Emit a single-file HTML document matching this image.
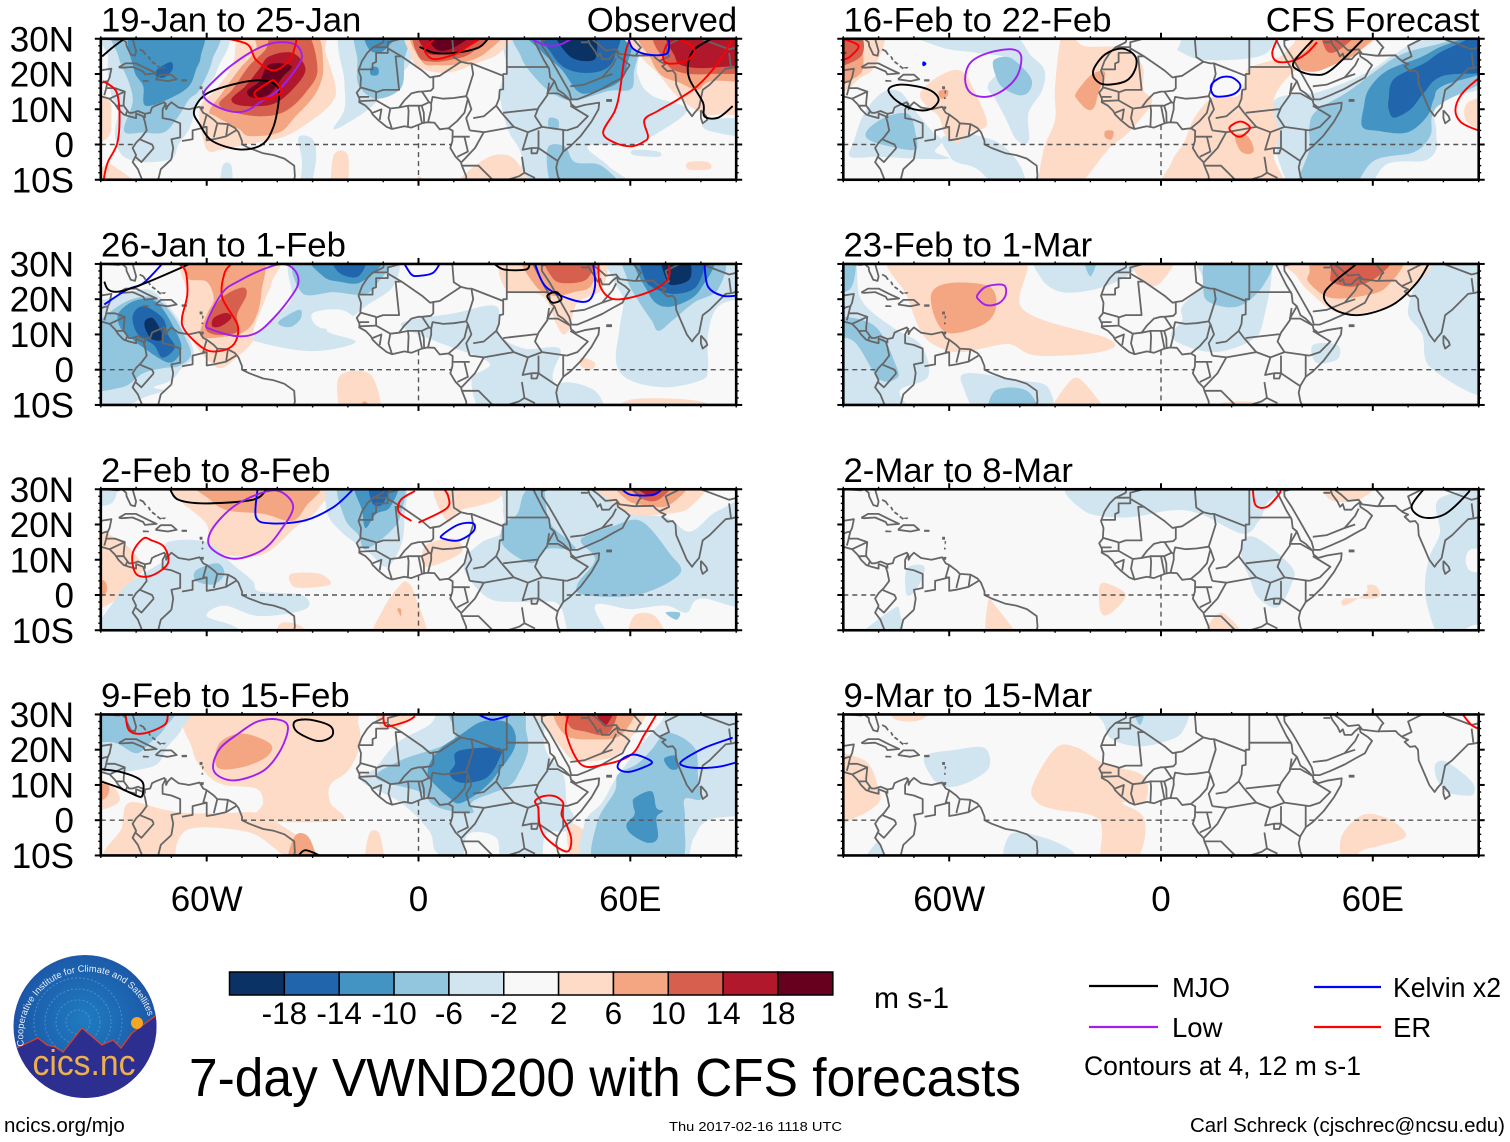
<!DOCTYPE html>
<html lang="en">
<head>
<meta charset="utf-8">
<title>7-day VWND200 with CFS forecasts</title>
<style>
html,body{margin:0;padding:0;background:#fff}
svg{display:block}
text{font-family:"Liberation Sans",sans-serif;fill:#000}
</style>
</head>
<body>
<svg id="chart" xmlns="http://www.w3.org/2000/svg" width="1510" height="1142" viewBox="0 0 1510 1142">
<defs>
<radialGradient id="logoSky" cx="50%" cy="45%" r="60%"><stop offset="0" stop-color="#1f7cc0"/><stop offset="0.7" stop-color="#1c5dab"/><stop offset="1" stop-color="#26409c"/></radialGradient>
<clipPath id="logoClip"><ellipse cx="85" cy="1026.5" rx="71.5" ry="71.5"/></clipPath>
<path id="logoArc" d="M 24 1046 A 64 64 0 1 1 151 1040"/>
</defs>
<g id="panels"></g>
<g id="colorbar"></g>
<g>
<ellipse cx="85" cy="1026.5" rx="71.5" ry="71.5" fill="url(#logoSky)"/>
<g clip-path="url(#logoClip)" fill="none" stroke="#6fa6d8" stroke-width="1" stroke-dasharray="2 2" opacity="0.6">
<circle cx="78" cy="1022" r="12"/><circle cx="78" cy="1022" r="22"/><circle cx="78" cy="1022" r="33"/><circle cx="78" cy="1022" r="44"/>
</g>
<polygon clip-path="url(#logoClip)" points="12,1050 38,1038 47,1045 55,1047 63,1052 82,1028 102,1045 113,1040 121,1048 132,1033 158,1014 160,1100 10,1100" fill="#2d2f90" stroke="#d8402a" stroke-width="1.3"/>
<circle cx="137" cy="1023" r="6" fill="#f5a623"/>
<text font-size="9.3" style="fill:#e8eef8"><textPath href="#logoArc">Cooperative Institute for Climate and Satellites</textPath></text>
<text x="84" y="1075" text-anchor="middle" font-size="36" textLength="103" lengthAdjust="spacingAndGlyphs" style="fill:#eeb04c">cics.nc</text>
</g>
<text x="874" y="1008" font-size="30">m s-1</text>
<text x="189" y="1096" font-size="54" textLength="832" lengthAdjust="spacingAndGlyphs">7-day VWND200 with CFS forecasts</text>
<g>
<line x1="1089" x2="1158" y1="986" y2="986" stroke="#000" stroke-width="2.2"/>
<text x="1172" y="997" font-size="27.5">MJO</text>
<line x1="1314" x2="1381" y1="987" y2="987" stroke="#0000ff" stroke-width="2.2"/>
<text x="1393" y="997" font-size="27.5" textLength="108" lengthAdjust="spacingAndGlyphs">Kelvin x2</text>
<line x1="1089" x2="1158" y1="1027" y2="1027" stroke="#a020f0" stroke-width="2.2"/>
<text x="1172" y="1037" font-size="27.5">Low</text>
<line x1="1314" x2="1381" y1="1027" y2="1027" stroke="#ff0000" stroke-width="2.2"/>
<text x="1393" y="1037" font-size="27.5">ER</text>
<text x="1084" y="1075" font-size="27" textLength="277" lengthAdjust="spacingAndGlyphs">Contours at 4, 12 m s-1</text>
</g>
<text x="4" y="1132" font-size="20.5">ncics.org/mjo</text>
<text x="669" y="1131" font-size="13.3" textLength="173" lengthAdjust="spacingAndGlyphs">Thu 2017-02-16 1118 UTC</text>
<text x="1190" y="1132" font-size="20.5" textLength="315" lengthAdjust="spacingAndGlyphs">Carl Schreck (cjschrec@ncsu.edu)</text>
</svg>
<script>
// ---- Categories and scale values ----
const panelTitles = ['19-Jan to 25-Jan','26-Jan to 1-Feb','2-Feb to 8-Feb','9-Feb to 15-Feb','16-Feb to 22-Feb','23-Feb to 1-Mar','2-Mar to 8-Mar','9-Mar to 15-Mar'];
const columnTags = ['Observed','CFS Forecast'];
const latTicks = [30,20,10,0,-10];
const latLabels = ['30N','20N','10N','0','10S'];
const lonTicks = [-60,0,60];
const lonLabels = ['60W','0','60E'];
const colorbarBins = [-20,-16,-12,-8,-4,0,4,8,12,16,20];
const colorbarColors = ['#0a3264','#2166ac','#4393c3','#92c5de','#d1e5f0','#f8f8f8','#fddbc7','#f4a582','#d6604d','#b2182b','#67001f'];
const colorbarLabels = ['-18','-14','-10','-6','-2','2','6','10','14','18'];
const contourColors = {mjo:'#000000',low:'#a020f0',kelvin:'#0000ff',er:'#ff0000'};

// ---- Shaded anomaly regions: [m/s, lon,lat, lon,lat, ...] ----
const shadeJan19 = [
[-4,-88,30,-55.5,30,-57,21.3,-60.3,15.6,-63,10,-65,4.3,-68,0,-70,-4,-78,-5,-84,-3,-86,3,-85,10,-87,14,-88,20,-88,25],
[-4,-21.6,30,-2,30,-2,24,-6,19,-12,12,-17,8,-24,4.3,-21,10,-21,18],
[-4,26.8,30,60,30,62,20,66,14,76,10,68,3.4,60,0,48,-0.5,53.7,-6,61,-11,32,-11,29,-2.3,25.3,4.3,23,14.7,25,21.3],
[-4,82,7,92,7,92,2,82,4],
[-4,61,-1.5,68,-2,68,-3.5,61,-3],
[-4,-34,2,-30,1.5,-29,-4,-31,-11,-33.5,-11,-33,-5],
[-4,-55.5,-6,-53,-6,-53,-11,-56,-11],
[4,-91,14,-88,13,-87,8,-88,2,-91,0],
[4,-89,-6,-85,-7,-78,-10,-78,-11,-91,-11],
[4,-24,-3,-20,-3,-20.5,-11,-24.5,-11],
[4,19,-4,27,-4,30,-11,10,-11],
[4,0,-9,4,-10,6,-11,0,-11],
[4,76.5,-5,82,-5,82.5,-7,76.5,-7],
[-8,-85,30,-58,30,-58.4,24,-62,15.6,-65,12.8,-68,8,-72,3.5,-78,3.4,-83.4,3.8,-81,11.9,-82,17.5,-85,25],
[-8,-17.3,30,-3,30,-4,24,-5,16,-12,13,-17,17,-17.3,24],
[-8,29,30,60,30,61,20,60,15.6,54,15.2,44,12.5,38,14.5,33,19,29,25],
[-8,36.5,-1.4,41.4,-0.5,44.3,-5,51.8,-6,57.4,-11,39.5,-11],
[-8,37,7.5,39.5,7,39.5,4.3,37,4.8],
[-12,-81,30,-62,30,-61.7,25,-63,21.3,-65,16.6,-70,13.3,-77.3,11,-78,16.6,-80.6,21.3],
[-12,-15,30,-6,30,-10,26.5,-14,27],
[-12,-13.5,21.8,-11.5,21.8,-11.5,19.8,-13.5,19.8],
[-12,31.5,30,58.4,30,59,22.3,56.5,17.5,49,14.7,45,15.2,40.5,21.3,34.8,26.5],
[-16,-74,21.3,-70.2,23.4,-69.7,21.3,-72,19,-74.4,19.4],
[-16,35,30,55.6,30,55.6,25,52.7,21.3,47,20.3,41.4,21.8,37.6,26],
[-20,38.6,30,49,30,50.4,25,47,23.7,42.3,25.5],
[4,-49,30,-28,30,-26.3,26,-23.5,16.6,-24.5,11.9,-30,7,-37.6,2.4,-46,0.5,-55.6,-1.4,-59.3,-2,-61,1.5,-62,10.4,-57.5,15.6,-52.7,22.3],
[8,-45.6,30,-30,30,-27,22.3,-29,14.7,-34.8,8,-39.5,3.4,-48,2.4,-50.8,4.3,-57.5,8,-59.3,9.5,-55.6,14.7,-50.8,21.3,-46,27],
[12,-41,30,-32,30,-28.6,21.3,-32,14.7,-37.6,9.5,-44,8,-51.8,9,-56.5,11.4,-52.7,15.6,-48,22.3,-43.3,27],
[16,-42.3,25,-35.7,26,-32,21.3,-35.7,15.6,-41.4,11.4,-49.9,11,-53,12.8,-49,16.6,-45.2,21.3],
[20,-42.3,22.7,-36,22.3,-38.6,19,-42.3,14.2,-47,13.3,-48.5,15.2,-45,18],
[4,-2,30,25,30,23,26,15.4,22.7,10.3,20.8,5.5,20.4,0,22,-2,25],
[8,-1,30,23,30,19,26,12,23,6,22.5,1,23.5],
[12,0,30,20,30,15,26,9,24,4,23.5,0,25],
[16,1,30,19,30,13,27,6,25.5,2,26.5],
[20,3,30,16,30,10,27.5,5,27],
[4,60,30,92,30,92,11,85,8.5,80,9,73,14,68,20,63,25],
[8,64,30,92,30,92,19,83,18,79,15.5,74,17.5,69,19.5,66,24],
[12,68,30,92,30,92,21.5,83,20,74.5,20.4,70,23.4],
[16,71.6,30,92,30,92,24,83,21.8,75,22.3,72.6,25]
];
const linesJan19 = [
['mjo',1,-63.6,9.5,-60.3,14.2,-52.7,17,-45.2,18.2,-40.5,17,-39.5,13.8,-41,5.3,-44.3,0,-50.8,-1.4,-58.4,1,-62,5.7],
['mjo',0,-89.6,25,-86.7,27.5,-83.4,30],
['mjo',0,0.3,27.7,4.6,26,10.3,26,17,27.5,19.7,30],
['mjo',0,83,30,78.2,27,76.4,23.2,76.8,18.5,80.6,11.9,81,8,84.9,7.6,89,10.9],
['low',1,-60.8,14.7,-59.3,12,-53.7,9.5,-49,9.5,-44.3,12.3,-39.5,15.6,-34.8,21.3,-33,25,-35,28.4,-40.5,28.9,-46,27,-52.7,22.7,-57.5,18.5],
['low',0,32,30,35.8,28.2,40,28.3,43.3,30],
['er',0,-54,30,-48.3,28.3,-46,24,-41,21,-36.5,24,-35,27.7,-34.5,30],
['er',1,-46,15.2,-41.8,18,-40.8,18,-38.7,15.2,-40.5,13.8,-44.3,12.8,-46.3,13.8],
['er',0,-89.4,18,-85.7,15.2,-84.7,9,-85.3,0.5,-88,-5,-89,-9,-89,-11],
['er',0,4.6,30,2,27.5,2.2,25.7,4.6,24.2,10.3,25.6,14,27.9,17,30],
['er',0,59.8,30,58.4,25,57,15,55.6,9.5,52.3,3.4,55.6,0.5,60.3,-0.5,64,0.9,65,2.4,64,7,67.8,9.5,73.5,12.8,79,16.6,84.9,23.2,89,30],
['er',1,69.3,24.5,70.7,23,75.4,23.5,78.2,26.3,76.4,28.6,72.6,30,70.2,28],
['kelvin',0,59.5,30,60.8,27.2,65,25.5,70.2,25.7,71,28.5,70.7,30]
];
const shadeJan26 = [
[-4,-35,30,-8,30,-7,24,-15,18,-20,14,-26,11,-17.8,8,-25,5.7,-34,5.5,-46,8,-47,9,-42,14,-36,20],
[0,-30,16,-22,17,-17,13.5,-19,11.5,-28,12],
[-4,-5,13,10,16,22,18,23,10,30,6,40,6,38,-2,40,-11,20,-11,15,-3,20,2,5,8],
[-4,40,-4,50,-6,52,-11,39,-11],
[-4,-88.5,20,-78.6,22.7,-74,21.3,-67,12.8,-63.6,4.3,-67,0.5,-70,-3,-75,-5,-72,-6,-78,-8,-88,-10,-92,-8,-92,18],
[-4,56,30,90,30,90,22,85,18,82,10,82,0,80,-3,70,-5,60,-3,56,2,57,12,58,20,55,26],
[4,-22.5,-2,-13.5,-1.5,-11,-11,-21,-11],
[8,-16,-9.5,-14.5,-9.5,-14,-11,-16.5,-11],
[4,60,-8.5,80,-9,82,-11,58,-11],
[4,46,3.5,50,2,49,0,46,1],
[-8,-89,15,-82,19.7,-75,20.5,-70,16,-66,9,-64.5,4,-68,1,-72,0.5,-78,-1,-84,-5,-91,-5,-91,8],
[-12,-85,16,-80,19.7,-74,19,-68.3,10,-67.3,5.3,-70.7,2,-78,6.3,-82,9.5,-84.4,11.8],
[-16,-81,15.2,-78,18,-72.5,14.7,-71,10,-69,6.3,-72.5,3.4,-75,7,-79.5,10],
[-20,-77.5,13.8,-75.4,14.7,-73.4,11.9,-72.5,8.6,-75.4,8.6,-77.3,11.4],
[-8,-34,30,-9,30,-12,24,-16,21.3,-24,22,-33,21.8],
[-12,-30.5,30,-10,30,-16,25,-22.5,25,-27,26.5],
[-16,-24.4,30,-15,30,-17,26.5,-22.5,27.5],
[-8,-39.5,13.8,-33.8,17,-33.3,14.7,-35.7,12.3,-38.5,12.3],
[4,-66,30,-40.5,30,-41.5,25,-43.5,19.7,-46.5,12,-47,8,-50,4.8,-55.6,0.5,-59.3,2.4,-63,6.7,-67,14.7,-65.5,21.3],
[8,-65,30,-45,30,-44.5,22,-46,15,-49,11,-54,9.5,-61.7,9.5,-59.8,16,-58,20,-60,25,-65.5,26],
[12,-55.6,20.5,-50,23.3,-48.7,21.3,-51.4,15.6,-51,11,-56,9.8,-60,11,-59.7,14.7],
[16,-58,14.7,-54.5,16.1,-53,14.7,-56,12.3,-58.4,12.3],
[4,25,30,51,30,52,23,45,19,43,12,41,10,39,13,35,21,25,22.5],
[8,30,30,50,30,49,24,44,22,38,21,33,24],
[12,36,30,49,30,48,26,42,24.5,38,26],
[-8,60,30,85,30,85,23,78,19,72,14,68,11,66,14,62,20,59,26],
[-12,62,30,83,30,80,23,75,19,69,18,65,22],
[-16,64,30,80,30,79,24,73,21.5,67,23,64,26],
[-20,69,30,76,30,77,26,72,24,70,26]
];
const linesJan26 = [
['kelvin',0,-89,18.5,-82.6,22.7,-78,24.5,-72.6,30],
['mjo',0,-89,25,-88,22.8,-85.5,22.1,-81,23.2,-74,26,-66,29.5,-64,30.5],
['er',0,-68,30,-66,28,-65.5,21.3,-67,14.7,-66.4,11.5,-63,7.7,-59.3,5.3,-54.6,5.7,-51.8,8,-51.3,12.8,-55.6,20.5,-55,27.3,-53,30],
['low',1,-60,13.3,-58.6,11.4,-51.5,9.5,-46,10.4,-41,14.7,-35.7,21.3,-34,25,-35.2,28.4,-38.6,30,-44,28.5,-51,25.1,-55.6,21.8],
['kelvin',0,-4,30,-2,27,0,26.6,4,27.4,6,30],
['mjo',0,21.5,30,24.3,28.4,30.4,28.4,31.5,30],
['kelvin',0,33,30,36,23.6,43,20,48,19.5,50,23.6,49.5,30],
['mjo',1,36.5,21,39,22,40.5,20,38,19],
['er',0,51,30,51.5,23.6,55.5,20,64.4,21.7,70.5,25.5,71,30],
['kelvin',0,81,30,82,23.6,86,21,90,21]
];
const shadeFeb2 = [
[4,-70,30,-27,30,-28,25,-35,19,-43,12,-51,11,-60,13,-60,20],
[8,-62.5,30,-29,30,-32,25,-36,21,-44,23,-54,24,-59,27],
[4,-90,17.5,-84,15,-78,8,-80,5,-85,-1,-90,-3],
[8,-91,4,-89,4,-89,0,-91,0],
[4,-36,6,-28,6,-25,3,-33,2,-36,3],
[4,-5,3,-3,3.5,-1,0,2,-11,-13,-11,-10,-4],
[8,-6,-4,-5,-4,-5,-6],
[4,5,30,25,30,22,27,12,24,8,21],
[4,2,14,10,16,12,12,2,8],
[4,61,-6,67,-6,70,-11,60,-11],
[4,-39,-8,-33,-9,-32,-11,-40,-11],
[-4,-91,30,-86,30,-87,26,-91,26],
[-4,-89,-11,-85,0,-78,6,-72,10,-71,15,-60,15,-53,9,-47,4,-45,1,-33,0,-32,-4,-45,-6,-55,-3,-60,-6,-52,-9,-48,-11],
[-8,-63,7,-57,9,-55,6,-58,3,-63,4],
[-4,-24,30,-5,30,-4,22,-5,14,-9,8,-14,12,-22,18,-26,24],
[-8,-22,30,-5,30,-5,23,-8,18,-15,13,-17,17,-21,22],
[-12,-18,30,-6,30,-8,25,-12,23,-15,19,-16,24],
[-16,-14,30,-8,30,-10,26,-13,26],
[-4,26,30,50,30,58,24,70,22,77,18,85,24,92,26,92,-2,80,-1,76,-5,70,-3,60,-4,50,-3,54,-11,44,-11,40,-3,34,-2,27,-2,20,-1,14,5,13,10,18,15,24,18,24,25],
[-8,30,29,35,30,37,21,43,15,44,13,36,13,32,9,24,14,24,20,28,23],
[-8,48,17,55,19.5,63,21,71,12,74,6,62,0,47,0,45,3,50,10,46,15],
[-8,70,-5,74,-5,73,-7],
[4,50,30,80,30,77,25,70,23,60,23,54,27],
[8,56,30,76,30,71,25.5,64,25.5,59,27],
[12,59,30,72,30,68,27,63,27.5],
[16,60,30,70,30,66,28]
];
const linesFeb2 = [
['mjo',0,-70.4,30,-68,27,-60.6,26,-47,27,-43,30],
['kelvin',0,-45.6,30,-46,22,-41.5,20.3,-32,21.2,-24,25,-18.5,30],
['low',1,-52.5,25,-58.6,18.4,-59,13.6,-52.5,10.3,-44.3,12.7,-39,18.4,-35.5,25,-39,29.3,-44.3,29],
['er',0,-1,29.5,-5,27,-5.6,23.6,-2,21],
['er',0,0,20.5,8,24.6,8.4,28,7.3,30],
['kelvin',1,7,16,6.7,17,11.4,20,15.5,20.3,15.5,18,11.4,15.5],
['er',1,-78,16,-81,11.7,-80,6,-75.6,5.5,-71,9,-72,13.6,-75.6,15.5],
['kelvin',0,57.6,30,60.3,28.4,66.4,28.4,69,30]
];
const shadeFeb9 = [
[4,-64,30,-22,30,-17,27,-17,20,-20,14,-25,10,-25,5,-22,0,-45,0,-44,5,-46,9,-55,10,-60,13,-64,20],
[4,-82,5,-72,3,-65,2,-55,2,-45,2,-38,-2,-33,-6,-30,-11,-86,-11,-84,-2],
[0,-66,-3,-50,-3,-42,-7,-38,-11,-66,-11],
[4,-91,13,-87,10,-85,5,-90,3],
[8,-91,10,-88,10,-89,6,-91,6],
[8,-56.5,21.7,-50,24.6,-42,21.7,-43,18,-50,15,-57,15],
[8,-35,-4.5,-31,-5,-29,-11,-37,-11],
[4,-14,-4,-11,-4,-10,-11,-15,-11],
[4,42,-1.5,47,-3,50,-9,50,-11,44,-11],
[4,29,-9,33,-8,34,-11,29,-11],
[4,-11,30,-1,30,-5,26.6,-11,26.6],
[-4,-91,30,-66,30,-67,26,-71,21,-76,15,-90,15],
[-8,-91,30,-70,30,-72,26,-76,22,-80,19,-86,22,-90,23],
[-4,-6,22,3,27,9,30,33,30,36,20,41,13,42,5,44,1,42,-3,36,-4,34,-11,24,-11,22,-5,14,-4,12,-10,5,-9,3,-3,-5,5,-16,11,-12,15],
[-4,56,12,62,20,68,27,74,30,92,30,92,5,82,0,78,-5,73,-11,48,-11,47,-1,52,5],
[-8,9,30,28,30,30.5,25.2,31,19.6,28.7,13.9,25.4,9.6,15.4,5.4,15.4,2.1,9.3,2.6,4.1,4.4,0,8.2,-12,12,-5,17,10,23],
[-12,12,24.3,18,28,24.4,28,27.2,25.2,27.2,20.5,23.5,14.8,18.7,9.2,12.1,4.9,8.8,6.3,2.7,13,5.5,19.6],
[-16,11.2,19.6,22.5,20.5,23,17.7,19.2,12,12.1,10.6,8.8,13,10.3,15.8],
[-8,50.8,-11,50.5,-1,55.6,8.2,56.5,13,62,16,66,20,70.7,24.8,78.2,20.5,79.2,12,80,6,75.4,6,75.4,-0.3,73,-11],
[-12,61.2,6.3,66,8.2,67.4,3.5,69.3,2.6,67.4,0.7,67.8,-5,65,-6.4,60.3,-4,58.9,-1.2,61.2,1.6,60.8,4.4],
[-12,69.8,17.7,73,18.2,73.5,14.8,71.6,14.4,70,16],
[4,33,30,63,30,60,23,55,18,45,16.7,40.5,20.5,36,27],
[8,39.5,30,60.3,30,57.5,24.3,50,22.9,41.4,24.3],
[12,42.4,30,55.6,30,53.7,24.5,47,25.2,42.8,26.7],
[16,49.9,30,55.6,30,52.7,26.7]
];
const linesFeb9 = [
['er',0,-83,30,-82,25.5,-78,24.6,-72,27,-71,30],
['mjo',0,-90,14.5,-84,13.6,-78.5,11.2,-78,8,-78.5,6.5],
['mjo',0,-90,11,-85,9.3,-80,7,-78.5,6.5],
['low',1,-51,24.6,-56.5,20,-58,14,-52.5,11.3,-44,14,-39,20,-37,26.5,-40,28.6,-45.6,28],
['mjo',1,-35,28,-34.5,25.2,-28.7,22.5,-24.6,23.8,-25,26.7,-30.7,28.5],
['er',0,-10,29.5,-9,26.7,-3.5,28,-1,29.5],
['kelvin',0,16.9,30,21,28.5,26.3,30],
['mjo',0,-34,-10,-32,-8.5,-28,-10],
['er',0,42.4,30,41.9,24.3,46.1,15.8,52.7,15.8,60.3,18.6,64,24.3,67.4,30],
['kelvin',1,56.5,14.8,57.5,17.2,61.2,18.6,66,16.7,64.5,15.3,59.4,13.7],
['kelvin',0,89,23.4,81,20.5,74.5,16.7,75.4,15.3,80,14.8,85.8,15.3,92,17],
['er',1,33,5.4,35.3,6.8,38.6,6.8,41,4.9,40.5,1.6,41.9,-1.2,43.3,-5.5,42.4,-8.8,39.5,-7.8,35.7,-4.5,34.3,-1.2,33.9,3.5]
];
const shadeFeb16 = [
[-4,-72,30,-45,30,-36.6,25,-33,21,-33.7,15.3,-37.5,9,-37.5,0.9,-41,1.4,-44.3,8,-47,13,-49,17,-43,24,-52,26,-62,27.5],
[-4,5,27.7,9.8,30,31,30,31,27,25.4,24.5,12,24,5.5,26.3],
[-4,-88,-3.5,-87,1,-84,9,-79,14.7,-74,15,-70,10,-65,4,-62,1,-64,-2,-60,-4,-70,-4,-80,-3.5],
[-4,-62,2,-55,3,-50,2,-46,0.5,-42,-3,-39,-8,-38.5,-11,-45,-11,-52,-7,-58,-5,-60,-3],
[-8,-83,4.3,-77.5,8,-71.5,8.6,-69.6,3.4,-69.6,-1.4,-77,-0.5,-83,1.5],
[4,-91,30,-79,30,-81,22.3,-85.7,18.5,-89.5,15.2,-91,15],
[8,-91,30,-86.5,30,-84.3,22.3,-87.6,18.5,-91,17],
[12,-91,30,-85.8,30,-85,25,-91,22],
[16,-91,27,-89,26,-91,24],
[4,-68.2,14.7,-62,19.9,-56.4,20.8,-52.6,14.7,-49.3,5.7,-54.5,3.4,-57.4,0.5,-61,2.4,-63,8,-66,10.4],
[8,-63,15,-60.5,15.5,-60.5,13.8,-62.3,13],
[-8,-47.4,23.9,-43.2,24.8,-39.4,22,-36.6,18.2,-37.5,14.9,-40.4,14,-45,16.3,-47,20],
[4,-27.6,30,-22,28,-12,27.5,-5.4,22.7,-5,15.6,-2.6,11.9,-9.2,3.4,-14.9,-1.4,-25.3,-11,-34.2,-11,-33.3,-1.8,-30,7.1,-30,16.6],
[8,-24,14.7,-19.6,19.9,-15.8,20.4,-17.7,14.7,-19,10.4,-21,10,-23.8,12.9],
[8,-15.8,3.8,-13.5,3.8,-14,1.5,-15.8,2],
[4,2,-11,3,-5,6.5,0.5,9.3,7.3,14,13,18,13.5,22,14,23.8,18,25,21.8,33,24.5,37,28,42,30,62,30,55,26,45,23,37.5,20.5,32,12.8,34,4.3,32,-3.3,33,-11],
[8,21,2.5,24.4,2.5,26.3,-1.3,25,-2.7,22.5,-1.8],
[-4,32.4,12.8,45,15,58.4,20.5,66,25.5,74.5,29.6,92,30,92,18.5,79,11.9,78,3.4,78,-1.4,74.5,-4.6,64,-5.6,56.5,-11,39,-11,33,-3.3,33.4,3.4],
[-8,44,9.5,53,15,60.3,20.5,68,25.5,78.2,28.4,92,30,92,21,80,12,76.8,8,76.3,2.5,71.6,-2.2,60.3,-4.6,52.7,-11,39,-11,42,-1.4,42,5],
[-12,57,5.1,57.5,10.9,58.9,15.7,64,20.9,73.5,24.7,81,28.4,92,30,92,22.5,80,16.7,77.3,12.9,75.4,8,69.7,3.4,61.2,3.9],
[-16,64.5,12.9,66,18.6,74.5,23,81,27.1,92,30,92,21.5,80,19.5,74.5,14.7,70.7,10,66,7.6,64.5,10],
[8,37.6,24.3,41.4,27,45,30,61,30,55.6,26,50.8,23.5,44.2,20.8,39.5,21.3],
[12,46,30,55.6,30,50.8,27,47,26.5],
[4,87,12,92,13,92,4,87,6]
];
const linesFeb16 = [
['er',0,-90,30,-85.7,28,-88,25,-90,24],
['kelvin',1,-67.3,23.3,-66.7,22.9,-67.3,22.5],
['mjo',1,-77.2,15.6,-73.4,17,-65.9,15.6,-63,12.8,-65.4,10,-70,10,-74.8,12.3],
['low',1,-55.5,18.5,-54,23.2,-48.9,26,-42.2,27,-39.6,25,-40.8,19.4,-45,15.2,-49.8,13.5,-54,14.7],
['mjo',1,-19.1,21.3,-15.8,25.6,-11,27.2,-7.3,25,-7.3,21.3,-10,18,-15.8,17,-18.6,18.5],
['kelvin',1,14.2,16.7,16.9,19,20.2,19,22.5,16.7,20.6,14.3,15.4,13.7],
['er',1,19.4,4.8,22.5,6.5,25.2,4.8,23,2.4,21,2.6],
['er',0,33,30,31.5,26,33,23.5,37.6,23.8,41.4,26,44.2,29],
['mjo',0,43.3,30,37.6,23.4,39,21,43.3,19.8,48,21,57.4,30],
['er',0,91,19,89,18,84.9,13.9,83.4,9.7,84.9,6.4,89,4.3,91,4]
];
const shadeFeb23 = [
[-4,-91,30,-87,30,-85,20,-76,12,-68,7,-66,-2,-74,-6,-72,-11,-91,-11],
[-8,-91,15,-81.5,12.7,-75,1,-75,-2.5,-80,-2.5,-87,8,-91,10],
[-8,-91,30,-87,30,-88,23,-91,23],
[4,-76,30,-40,30,-39,17,-14.6,8.6,-17.4,5,-35,4,-42,7,-46,7,-56,5,-62,6,-67.5,10,-72,21],
[8,-65,21.7,-59.6,24.6,-48.7,23.6,-46.7,18,-50,13,-59.6,10.3,-63.7,14],
[4,-8,30,4,30,-1,24,-6.5,26.5],
[4,-26,-3.5,-22,-3.5,-16,-11,-31,-11],
[4,17,-9.5,28,-9.5,28,-11,17,-11],
[-4,-34,30,-8,30,-9,27,-18,23,-28,22,-34,26],
[-8,-22,30,-18,30,-20,26.5],
[-4,10,30,30,30,29,14,25,8,14,5,3,9,6,14,6,18,12,25],
[-8,14,30,31,30,29,24,22,18,14,19,12,23],
[-4,43,7,50,7,50,3,44,2],
[-4,78,30,92,30,92,-6,77,0,74,10,70,17.5],
[-4,-55,-1,-40,-3,-32,-5,-32,-11,-50,-11,-56,-5],
[-8,-47,-6,-38,-6,-35,-11,-48,-11],
[4,36,30,75,30,69.7,21.7,61.5,17,50.6,16,42.5,21.7,38.4,26.5],
[8,42,27.4,45,30,68,30,64,23.6,57.4,21,48,20.4,42,24.6],
[12,48,26.5,50.6,30,65.6,30,61.5,26.5,54.7,23.6,49,24.6]
];
const linesFeb23 = [
['low',1,-52,21.2,-49.4,23.6,-44.6,24,-44,21.2,-46,18.8,-49.4,18.3,-51.6,19.8],
['mjo',0,55.4,30,46.5,22.2,48.6,17.4,56,15.5,65.6,18.4,72.4,24.6,75.8,30]
];
const shadeMar2 = [
[-4,-23,30,33,30,30,26,27.5,20.7,23,17.4,11,23,3,24,-10,22,-22,24],
[-4,23,15.5,27.5,16,37,8,37,3.2,33,-3.5,27.5,-0.7,25,5,23,10],
[-4,79,27.4,92,29.3,92,14.6,87.4,12.7,87.4,7,92,5,92,-6,87.4,-9,80,-11,75,-1,75.8,10,79,17.5],
[-4,-72,7.5,-67,8,-69,2,-72,0],
[-4,-87,-11,-76,-4,-74,-5,-74,-11],
[4,46.5,30,61.5,30,56,27,48,27],
[4,-17.4,2.6,-14.5,3,-10,0,-14,-5,-17,-5],
[4,-49,-2,-47,-3,-40,-11,-49,-11],
[4,12,-11,17,-5,24,-11],
[4,52,-1,60,-1,62,0,61,2.5,58.5,2.8,58,0.5,52,-3]
];
const linesMar2 = [
['er',0,26,30,26.8,25.5,30,25,33.6,28.8,33.6,30],
['mjo',0,74.4,30,71,25,74.4,22,80.5,23,87,29,86.7,30]
];
const shadeMar9 = [
[4,-77,30,-65,30,-68,28.5,-75,28.5],
[-4,-17,30,6,30,6,25,0,22,-7,21,-14,23,-16,27],
[-8,-8,30,-4.5,30,-6,27],
[-4,-67,18,-58,20,-50,20.5,-48.7,15,-54,11,-60,9.4,-64,11],
[4,-91,17.5,-84,17,-80,9,-80,5,-86,1,-91,-1],
[4,-36.5,9.5,-30,20.3,-24,20.7,-16,16,-5,12.6,-4.5,5.3,-11,5,-5,1,-5,-7,-9,-11,-17,-11,-17.5,0,-30,3,-35,5],
[4,51,-5,56.7,1.3,63,1,68,-2,69,-5,61.5,-7.4,56.7,-8.8,52,-11],
[-4,-42.6,-4,-33,-5,-25,-9,-24,-11,-43,-11],
[-4,77.8,16,81,16.5,88,11,88.6,7.5,86,7,81,8,78,12],
[-4,-85,-11,-80,-6,-79,-11],
[-4,90,-6,92,-6,92,-11,89,-11]
];
const linesMar9 = [
['er',0,85.5,30,88,27,91,25.5]
];
const panelShades = [shadeJan19,shadeJan26,shadeFeb2,shadeFeb9,shadeFeb16,shadeFeb23,shadeMar2,shadeMar9];
const panelLines = [linesJan19,linesJan26,linesFeb2,linesFeb9,linesFeb16,linesFeb23,linesMar2,linesMar9];

// ---- Base map in lon,lat ----
const coastlines = [
[-92,21,-90.3,21,-87,21.5,-87.5,19,-88,18,-88.5,16,-86,16,-83.2,15,-83.5,12,-83.5,11,-82,9,-81,9,-79.5,9.5,-77.5,8.7,-76,9,-75.5,10.5,-74.5,11,-72,12,-71.5,11,-71.5,10,-71,11,-70,12,-68,10.5,-65,10,-62,10.7,-61,9,-60,8.5,-58,7,-57,6,-54,5.8,-52,4.7,-51,3.5,-50,1,-50,0,-48,-1,-44,-2.5,-41,-3,-38,-4,-35.2,-6,-35,-9,-35.5,-11],
[-92,14,-90,13.7,-87.5,13,-86,11.5,-85,10,-83.5,8.5,-82,8,-80,7.5,-80,8.8,-78,8,-77.5,6.5,-77,4,-78.5,2,-80,0.5,-81,-1,-80,-3,-81,-5,-79.5,-7,-78.5,-9.5,-78,-11],
[-92,30,-89,30,-85,29.7,-84,30,-82.8,29,-82.7,28,-81.5,25.5,-80.3,25.2,-80,26.5,-81,30,-81,31],
[-84.9,21.9,-83,23,-80,23,-77,21.5,-74.2,20.2,-77.5,19.9,-78,20.7,-81,22,-84,21.8,-84.9,21.9],
[-74.5,18.5,-73,19.8,-70,19.8,-68.5,18.5,-71,18,-74.5,18.5],
[-9.5,31,-10,29,-13,27.5,-14.5,26,-16,23.7,-17,21,-16.3,19,-16.5,16,-17.5,14.7,-16.7,13,-16.8,12,-15,11,-13.5,9.5,-13,8.5,-11.5,7,-9,5,-7.5,4.4,-4,5.2,-2,4.8,1,6,2.5,6.3,4.5,6.2,6,4.3,7.5,4.5,8.5,4.6,9.7,3.9,9.6,1,9,-1,10.5,-3.5,12,-5,12.3,-6,13.5,-9,13.5,-11],
[32.5,31,32.5,30,34,27,35.5,24,37,21.5,37.3,19,38.5,18,39.5,15.5,41,14.5,43,12.5,43.2,11.5,44.5,10.5,47,11.2,51.2,11.9,51,10,49,6.5,46,2.5,43,-0.5,41,-2,39.5,-4.5,39,-6.5,39.5,-9,40.4,-11],
[34.9,31,34.9,29.5,35,28,37,25,39,21.5,41,18,42.7,15,43.3,12.8,45,12.8,48,14,52,15.8,55,17.5,57.8,19,58.8,21,59.8,22.5,58.5,23.7,56.5,25,56.3,26.3,55,25.3,54,24.2,52,24.2,51.5,25.8,50.7,25,50,26.5,48.5,28.5,48,30,48,31],
[49,31,49,30,51,28.5,53,26.7,56,27,57,25.7,61,25.2,66.5,25.3,67.2,24.5,68.5,23.5,70,22.8,69,22.2,70.5,20.8,72,21,72.8,20,73,17,74.5,13.5,76,10,77.5,8,78.2,9,79.5,10.5,80,13,80.5,15.5,82.5,17,85,19.5,87,21.5,89,21.8,91,22.5,92,21],
[80,9.7,81.5,8,81.8,7,80.5,6,80,7.5,80,9.7],
[32,-1,34,-1,33.5,-2.5,32,-2.5,32,-1]
];
const borders = [
[-91,17,-89,17.8,-88,18],[-89,14,-88.5,15.8],[-87.5,13,-83.2,15],[-85.7,11,-83.7,11],[-83,8.3,-82.5,9.5],[-77.5,8.7,-77.5,7.5],
[-71.5,11.8,-72.5,10,-72.5,7.5,-70,7,-67.5,6,-67.5,2,-70,1.5,-69.5,-1,-70,-4.2],
[-60,8.5,-61,5,-60,5,-64,4,-64,1.5,-67,1],[-57,6,-58,2],[-54,5.8,-54.5,2.3],[-51.7,4,-54.5,2.3,-58,1.5,-60,1.2,-60,5],
[-78.8,1.4,-75.5,0,-75,-1],[-80.3,-3.4,-78.5,-5,-75,-1],[-70,-4.2,-73,-7,-74,-11],
[-13,27.6,-8.7,27.6,-8.7,29,-5,30,-4,31],
[-8.7,27.3,-8.7,26,-12,26,-12,23.4,-13,23,-13,21.3,-17,21.3],
[-8.7,27.3,-4.8,25,-6.5,25,-5.5,15.5,-10,15.5,-12,14.8,-12.2,15,-16.4,16.2],
[-4.8,25,1,21,3.3,19,4.2,19.2,4.2,16,3.5,15.3,1,15],
[4.2,19.2,6,19.5,12,23.5,14,23,15,23,24,19.5],[9.5,31,10,24.8,12,23.5],[25,31,25,20,24,20,24,19.5],[25,22,37,22],
[24,19.5,24,15.7,23,15.5,22.8,13,22,11,23.5,9],[15,23,15.5,20,13.5,13.7],[14,13,15,10,13.5,7.5,14.5,4],[15.5,7.5,18.5,8,22,11],
[3.6,11.7,4,13.5,7,13,10,13.2,13.5,13.7,14,13],[2.7,6.3,3.6,10,3.6,11.7],[8.6,4.7,11,6.7,13,9,14,13],[1.6,6.2,1.5,9,0.9,11],[1,6,0,11],
[-3,5,-2.8,9.5,-3,11],[-5.5,10.5,-4,12.5,-2,14.5,0,15,1,15,3,12,3.6,11.7],[-8,10.2,-5.5,10.5,-3,11,0,11,0.9,11,3,12],[-12,12.5,-8,10.2],
[-7.5,4.4,-8.5,7.5,-8,10.2],[-13,9,-10.5,10,-11,7],[-16.7,12.3,-12,12.5,-12,14.8],[-16.7,13.5,-14,13.5],
[14.5,4,18.5,3.5,27,5,31,3.5,35,5],[18.5,3.5,16,-1,12.2,-5],[14.5,2.2,9.8,2.2],[13,2.2,14,-2,11,-3.5],[23.5,9,27,5],
[24,9,33,10,34,10],[37,17.5,36.5,14,34,10.5,33,8,35,5,42,4],[38.5,18,36.5,14.5,39.5,14.5,43,12.5],[43,11,48,8,45,5,42,4],[41,4,41,-2],
[31,3.5,29.5,-1.5,32,-1],[34,-1,34,4],[34,-1,39.5,-4.7],[29.3,-3.5,30,-8],[12.3,-6,17,-6,22,-11],[22,-11,28.5,-9,30,-8,33,-9.5],
[43,16.5,47,17,52,19,55,20],[52,19,55,22.5,56,24.5],[35,29.5,37,30,39,31],[46,29,48,29],
[61.5,25,62.5,27,63,27.5,61,29.8,61,31],[68.2,23.7,71,25,70,28,74,30,75,31],[80,30,88,27,92,28],[88,26,88.5,22],
[-79,27,-78,26.5,-77.3,25.5],[-76.5,25,-76,24],[-75.5,23.5,-74.5,22.8],[-74,22.3,-73,21.5]
];
const islands = [
[-78,18.2,-76.5,18.1,-76.5,17.9,-78,17.9],[-67,18.4,-65.7,18.4,-65.7,18,-67,18],
[-61.9,16.4,-61.3,16.4,-61.3,15.8,-61.9,15.8],[-61.2,15.3,-60.9,15,-61.2,14.5],[-61.3,13.4,-61,13.1,-61.4,13],[-61.6,10.7,-60.9,10.7,-61,10.1,-61.7,10.1],
[53.3,12.8,54.7,12.8,54.7,12.2,53.3,12.2],[-72.9,21.8,-71.7,21.9,-72,21.6]
];
const equatorSegments = [-90,-80,-50,9.4,42,90];

// ---- Axis functions ----
const LON_SCALE = 3.53;
const LAT_SCALE = 3.525;
const svg = document.getElementById('chart');
const NS = 'http://www.w3.org/2000/svg';
const colOrigin = [418.5,1161];
const rowOrigin = [144.5,369.7,595,820.2];
function xAxis(panel,lon){ return colOrigin[panel>3?1:0] + lon*LON_SCALE; }
function yAxis(panel,lat){ return rowOrigin[panel%4] - lat*LAT_SCALE; }
function colorFor(v){
  let best = 0;
  colorbarBins.forEach((b,i)=>{ if(Math.abs(b-v) < Math.abs(colorbarBins[best]-v)) best = i; });
  return colorbarColors[best];
}
function make(tag,parent,attrs){
  const el = document.createElementNS(NS,tag);
  for(const k in attrs) el.setAttribute(k,attrs[k]);
  parent.appendChild(el);
  return el;
}
function closedPath(p){
  const n = p.length;
  let d = 'M'+p[0][0].toFixed(1)+' '+p[0][1].toFixed(1);
  for(let i=0;i<n;i++){
    const a=p[(i-1+n)%n],b=p[i],c=p[(i+1)%n],e=p[(i+2)%n];
    d += 'C'+(b[0]+(c[0]-a[0])/6).toFixed(1)+' '+(b[1]+(c[1]-a[1])/6).toFixed(1)+' '+(c[0]-(e[0]-b[0])/6).toFixed(1)+' '+(c[1]-(e[1]-b[1])/6).toFixed(1)+' '+c[0].toFixed(1)+' '+c[1].toFixed(1);
  }
  return d+'Z';
}
function openPath(p){
  const n = p.length;
  let d = 'M'+p[0][0].toFixed(1)+' '+p[0][1].toFixed(1);
  for(let i=0;i<n-1;i++){
    const a=p[Math.max(i-1,0)],b=p[i],c=p[i+1],e=p[Math.min(i+2,n-1)];
    d += 'C'+(b[0]+(c[0]-a[0])/6).toFixed(1)+' '+(b[1]+(c[1]-a[1])/6).toFixed(1)+' '+(c[0]-(e[0]-b[0])/6).toFixed(1)+' '+(c[1]-(e[1]-b[1])/6).toFixed(1)+' '+c[0].toFixed(1)+' '+c[1].toFixed(1);
  }
  return d;
}
function pushOut(lon,lat){
  return [lon<=-90?lon-4:(lon>=90?lon+4:lon), lat>=30?lat+2.5:(lat<=-10?lat-2.5:lat)];
}
function shadePoints(panel,flat,start){
  const pts = [];
  for(let i=start;i<flat.length;i+=2){
    const q = pushOut(flat[i],flat[i+1]);
    pts.push([xAxis(panel,q[0]),yAxis(panel,q[1])]);
  }
  return pts;
}
function linePoints(panel,flat,start){
  const pts = [];
  for(let i=start;i<flat.length;i+=2) pts.push([xAxis(panel,flat[i]),yAxis(panel,flat[i+1])]);
  return pts;
}
function straight(pts){ return 'M'+pts.map(p=>p[0].toFixed(1)+' '+p[1].toFixed(1)).join('L'); }

// ---- Panels ----
const defs = svg.querySelector('defs');
const panelsGroup = document.getElementById('panels');
panelTitles.forEach((title,pi)=>{
  const g = make('g',panelsGroup,{});
  
  
  const left = xAxis(pi,-90), right = xAxis(pi,90), top = yAxis(pi,30), bottom = yAxis(pi,-10);
  const clip = make('clipPath',defs,{id:'clip'+pi});
  make('rect',clip,{x:left,y:top,width:right-left,height:bottom-top});

  const bg = make('rect',g,{x:left,y:top,width:right-left,height:bottom-top,fill:'#f8f8f8'});
  
  

  const field = make('g',g,{'clip-path':'url(#clip'+pi+')'});
  
  
  panelShades[pi].forEach(s=>{
    const r = make('path',field,{d:closedPath(shadePoints(pi,s,1)),fill:colorFor(s[0])});
    
    
  });

  const map = make('g',g,{'clip-path':'url(#clip'+pi+')',fill:'none',stroke:'#666','stroke-width':1.8,'stroke-linejoin':'round'});
  
  
  coastlines.concat(borders).forEach(c=>{
    const m = make('path',map,{d:straight(linePoints(pi,c,0))});
    
    
  });
  islands.forEach(c=>{
    const m = make('path',map,{d:straight(linePoints(pi,c,0))+'Z',fill:'#666','stroke-width':0.8});
    
    
  });

  const guides = make('g',g,{stroke:'#555','stroke-width':1.4,'stroke-dasharray':'5 4',fill:'none'});
  
  
  for(let i=0;i<equatorSegments.length;i+=2){
    const l = make('line',guides,{x1:xAxis(pi,equatorSegments[i]),x2:xAxis(pi,equatorSegments[i+1]),y1:yAxis(pi,0),y2:yAxis(pi,0)});
    
    
  }
  const pm = make('line',guides,{x1:xAxis(pi,0),x2:xAxis(pi,0),y1:yAxis(pi,5.5),y2:yAxis(pi,-10)});
  
  

  const cont = make('g',g,{'clip-path':'url(#clip'+pi+')',fill:'none','stroke-width':1.9,'stroke-linejoin':'round'});
  
  
  panelLines[pi].forEach(c=>{
    const pts = linePoints(pi,c,2);
    const l = make('path',cont,{d:c[1]?closedPath(pts):openPath(pts),stroke:contourColors[c[0]]});
    
    
  });

  const axes = make('g',g,{stroke:'#000',fill:'none'});
  
  
  const frame = make('rect',axes,{x:left,y:top,width:right-left,height:bottom-top,'stroke-width':2.6});
  
  
  for(let lon=-90;lon<=90;lon+=10){
    const major = lonTicks.indexOf(lon)>=0, len = major?6:2.5, w = major?2:1.4;
    const t1 = make('line',axes,{x1:xAxis(pi,lon),x2:xAxis(pi,lon),y1:top,y2:top-len,'stroke-width':w});
    
    
    const t2 = make('line',axes,{x1:xAxis(pi,lon),x2:xAxis(pi,lon),y1:bottom,y2:bottom+len,'stroke-width':w});
    
    
  }
  for(let lat=-10;lat<=30;lat+=2){
    const major = latTicks.indexOf(lat)>=0, len = major?6:2.5, w = major?2:1.4;
    const t1 = make('line',axes,{x1:left,x2:left-len,y1:yAxis(pi,lat),y2:yAxis(pi,lat),'stroke-width':w});
    
    
    const t2 = make('line',axes,{x1:right,x2:right+len,y1:yAxis(pi,lat),y2:yAxis(pi,lat),'stroke-width':w});
    
    
  }

  const tt = make('text',g,{x:left+0.2,y:top-7.5,'font-size':34.7});
  
  
  tt.textContent = title;

  if(pi===0 || pi===4){
    const tag = make('text',g,{x:right+1,y:top-7.5,'font-size':34.7,'text-anchor':'end'});
    
    
    tag.textContent = columnTags[pi===0?0:1];
  }
  if(pi<4){
    latTicks.forEach((lat,i)=>{
      const lb = make('text',g,{x:74,y:yAxis(pi,lat)+12.5,'font-size':35,'text-anchor':'end'});
      
      
      lb.textContent = latLabels[i];
    });
  }
  if(pi===3 || pi===7){
    lonTicks.forEach((lon,i)=>{
      const lb = make('text',g,{x:xAxis(pi,lon),y:911,'font-size':35,'text-anchor':'middle'});
      
      
      lb.textContent = lonLabels[i];
    });
  }
});

// ---- Colorbar ----
const cbGroup = document.getElementById('colorbar');
const cbLeft = 229.5, cbBox = 54.85, cbTop = 972, cbHeight = 23;
colorbarColors.forEach((c,i)=>{
  const r = make('rect',cbGroup,{x:cbLeft+i*cbBox,y:cbTop,width:cbBox,height:cbHeight,fill:c,stroke:'#000','stroke-width':1.5});
  
  
});
colorbarLabels.forEach((t,i)=>{
  const lb = make('text',cbGroup,{x:cbLeft+(i+1)*cbBox,y:1024,'font-size':31.5,'text-anchor':'middle'});
  
  
  lb.textContent = t;
});
</script>
</body>
</html>
